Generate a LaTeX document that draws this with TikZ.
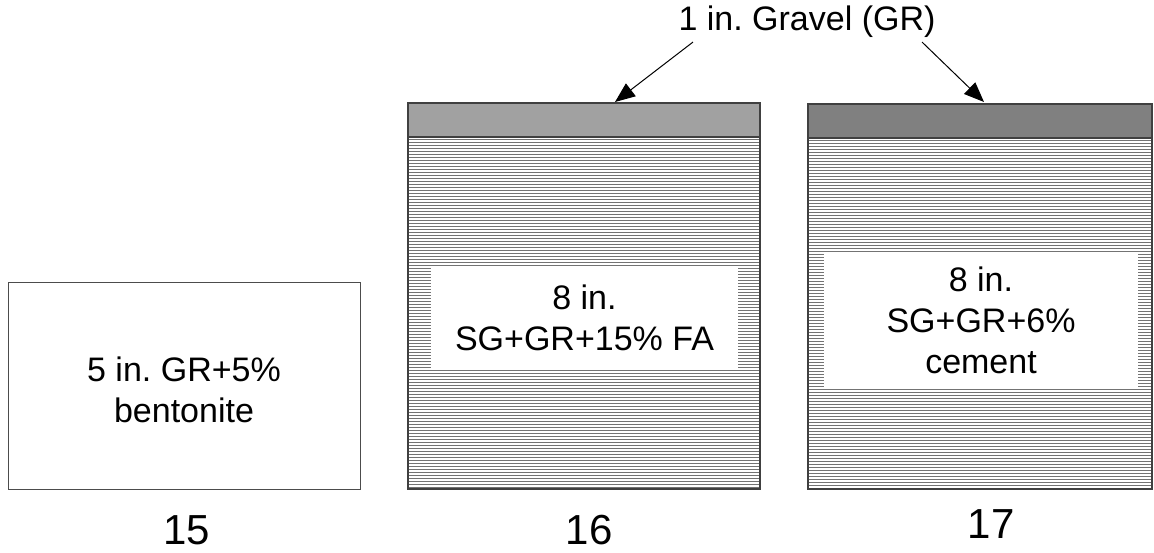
\documentclass[tikz,border=0pt]{standalone}
\usepackage{fontspec}
\setmainfont{Liberation Sans}
\frenchspacing
\usetikzlibrary{arrows.meta,calc}
\tikzset{
  txt/.style={font=\fontsize{34}{41}\selectfont, align=center, inner sep=0pt},
  numlbl/.style={font=\fontsize{42}{46}\selectfont, inner sep=0pt},
  layer/.style={draw=black!75, line width=1.2pt, inner sep=0pt, outer sep=0pt},
  hatched/.style={layer, path picture={
      \foreach \k in {1,...,130}{
        \draw[black!55, line width=1pt]
          ([yshift=-\k*3pt+1pt]path picture bounding box.north west) --
          ([yshift=-\k*3pt+1pt]path picture bounding box.north east);}}},
  whitebox/.style={fill=white, inner sep=0pt, outer sep=0pt},
  arr/.style={-{Triangle[length=20pt,width=16pt]}, line width=1pt, black},
}
\begin{document}
\begin{tikzpicture}[x=1pt,y=-1pt]
\useasboundingbox (0,0) rectangle (1154,552);
% box 15
\node[layer, draw=black!70, line width=1pt, minimum width=352pt, minimum height=207pt] (b15) at (184,386) {};
\node[txt] (t15) at (184,390) {5 in. GR+5\%\\bentonite};
% box 16
\node[hatched, minimum width=352pt, minimum height=352pt] (b16) at (584,313) {};
\node[layer, fill=black!37, minimum width=352pt, minimum height=34pt] (g16) at (584,120) {};
\node[whitebox, minimum width=307pt, minimum height=101pt] (w16) at (584.5,317.5) {};
\node[txt] (t16) at (w16.center) {8 in.\\SG+GR+15\% FA};
% box 17
\node[hatched, minimum width=344pt, minimum height=351pt] (b17) at (980,313.5) {};
\node[layer, fill=black!50, minimum width=344pt, minimum height=34pt] (g17) at (980,121) {};
\node[whitebox, minimum width=314pt, minimum height=136pt] (w17) at (981,320) {};
\node[txt] (t17) at (w17.center) {8 in.\\SG+GR+6\%\\cement};
% numbers
\node[numlbl] (n15) at (187,530) {15};
\node[numlbl] (n16) at (589,530) {16};
\node[numlbl] (n17) at (991,524) {17};
% gravel label and arrows
\node[txt] (lab) at (807,22) {1 in. Gravel (GR)};
\coordinate (tip16) at (615,102);
\coordinate (tip17) at (984,102);
\draw[arr] ([xshift=-114pt,yshift=-4pt]lab.south) -- (tip16);
\draw[arr] ([xshift=115pt,yshift=-4pt]lab.south) -- (tip17);
\end{tikzpicture}
\end{document}
